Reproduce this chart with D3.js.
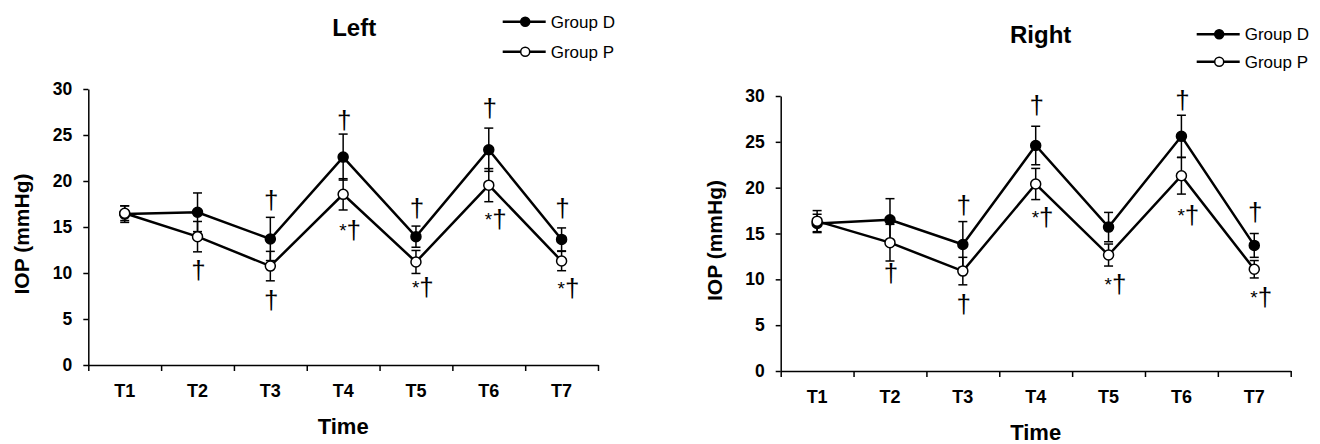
<!DOCTYPE html>
<html>
<meta charset="utf-8">
<style>
body { margin: 0; background: #fff; }
text { font-family: "Liberation Sans", Arial, sans-serif; fill: #000; }
.tick text { font-weight: bold; }
.axis path, .axis line { stroke: #000; stroke-width: 1.5px; }
.marks { opacity: 0.999; }
</style>
<head>
<script src="https://d3js.org/d3.v7.min.js"></script>
</head>
<body>
<script>
// categories and values
var categories = ["T1", "T2", "T3", "T4", "T5", "T6", "T7"];
var yTicks = [0, 5, 10, 15, 20, 25, 30];

var leftD    = [16.4, 16.6, 13.7, 22.6, 13.95, 23.4, 13.65];
var leftDErr = [0.9, 2.1, 2.35, 2.5, 1.15, 2.35, 1.25];
var leftP    = [16.5, 13.95, 10.75, 18.55, 11.2, 19.55, 11.3];
var leftPErr = [0.8, 1.65, 1.6, 1.7, 1.25, 1.8, 1.05];

var rightD    = [16.1, 16.5, 13.8, 24.6, 15.7, 25.6, 13.7];
var rightDErr = [1.0, 2.3, 2.5, 2.1, 1.6, 2.3, 1.3];
var rightP    = [16.35, 14.0, 10.9, 20.4, 12.65, 21.3, 11.1];
var rightPErr = [1.15, 2.0, 1.5, 1.7, 1.2, 2.0, 0.95];

// significance marks: [category, value at glyph centre, star?]
var leftMarks = [
  ["T2", 10.1, false],
  ["T3", 17.75, false], ["T3", 6.9, false],
  ["T4", 26.4, false], ["T4", 14.5, true],
  ["T5", 16.8, false], ["T5", 8.3, true],
  ["T6", 27.7, false], ["T6", 15.7, true],
  ["T7", 16.8, false], ["T7", 8.1, true]
];
var rightMarks = [
  ["T2", 10.5, false],
  ["T3", 17.9, false], ["T3", 7.1, false],
  ["T4", 28.8, false], ["T4", 16.6, true],
  ["T5", 9.3, true],
  ["T6", 29.4, false], ["T6", 16.8, true],
  ["T7", 17.1, false], ["T7", 7.85, true]
];

var groupNames = ["Group D", "Group P"];

var svg = d3.select("body").append("svg")
    .attr("width", 1320)
    .attr("height", 444);

var panels = [
  {title: "Left", x0: 88.3, x1: 598, top: 89, bottom: 365, titleDx: 11, titleY: 36,
   legX: 502.7, legY: 21.7, legGap: 30,
   d: leftD, dErr: leftDErr, p: leftP, pErr: leftPErr, marks: leftMarks},
  {title: "Right", x0: 780.7, x1: 1290.7, top: 96, bottom: 371, titleDx: 5, titleY: 43,
   legX: 1196.7, legY: 34.3, legGap: 27.4,
   d: rightD, dErr: rightDErr, p: rightP, pErr: rightPErr, marks: rightMarks}
];

panels.forEach(function(pn) {
  var g = svg.append("g");

  var x = d3.scaleBand()
      .domain(categories)
      .range([pn.x0, pn.x1])
      .padding(0);
  var xEdge = d3.scaleLinear()
      .domain([0, categories.length])
      .range([pn.x0, pn.x1]);
  var y = d3.scaleLinear()
      .domain([0, 30])
      .range([pn.bottom, pn.top]);
  var cx = function(c) { return x(c) + x.bandwidth() / 2; };

  // y axis
  g.append("g")
      .attr("class", "axis")
      .attr("transform", "translate(" + pn.x0 + ",0)")
      .call(d3.axisLeft(y).tickValues(yTicks).tickSize(5).tickSizeOuter(0).tickPadding(11))
      .selectAll("text").style("font-size", "17.5px");

  // x axis: ticks at category edges, labels centred
  g.append("g")
      .attr("class", "axis")
      .attr("transform", "translate(0," + pn.bottom + ")")
      .call(d3.axisBottom(xEdge).tickValues(d3.range(categories.length + 1))
            .tickFormat("").tickSize(6).tickSizeOuter(0));
  g.append("g")
      .attr("class", "axis")
      .attr("transform", "translate(0," + pn.bottom + ")")
      .call(d3.axisBottom(x).tickSize(0).tickSizeOuter(0).tickPadding(19))
      .call(function(s) { s.select(".domain").remove(); })
      .selectAll("text").style("font-size", "18px");

  // axis titles
  g.append("text")
      .attr("x", (pn.x0 + pn.x1) / 2)
      .attr("y", pn.bottom + 69)
      .attr("text-anchor", "middle")
      .style("font-size", "22px")
      .style("font-weight", "bold")
      .text("Time");
  g.append("text")
      .attr("transform", "translate(" + (pn.x0 - 59) + "," + ((pn.top + pn.bottom) / 2 + 7) + ") rotate(-90)")
      .attr("text-anchor", "middle")
      .style("font-size", "21px")
      .style("font-weight", "bold")
      .text("IOP (mmHg)");

  // panel title
  g.append("text")
      .attr("x", (pn.x0 + pn.x1) / 2 + pn.titleDx)
      .attr("y", pn.titleY)
      .attr("text-anchor", "middle")
      .style("font-size", "24px")
      .style("font-weight", "bold")
      .text(pn.title);

  var series = [
    {vals: pn.d, errs: pn.dErr, fill: "#000"},
    {vals: pn.p, errs: pn.pErr, fill: "#fff"}
  ];

  // error bars
  series.forEach(function(s) {
    var eb = g.append("g").selectAll("g")
        .data(categories.map(function(c, i) { return {c: c, v: s.vals[i], e: s.errs[i]}; }))
      .enter().append("g");
    eb.append("line")
        .attr("x1", function(d) { return cx(d.c); })
        .attr("x2", function(d) { return cx(d.c); })
        .attr("y1", function(d) { return y(d.v - d.e); })
        .attr("y2", function(d) { return y(d.v + d.e); })
        .attr("stroke", "#000").attr("stroke-width", 1.5);
    [-1, 1].forEach(function(sg) {
      eb.append("line")
          .attr("x1", function(d) { return cx(d.c) - 4.5; })
          .attr("x2", function(d) { return cx(d.c) + 4.5; })
          .attr("y1", function(d) { return y(d.v + sg * d.e); })
          .attr("y2", function(d) { return y(d.v + sg * d.e); })
          .attr("stroke", "#000").attr("stroke-width", 1.5);
    });
  });

  // lines and markers
  var line = d3.line()
      .x(function(d, i) { return cx(categories[i]); })
      .y(function(d) { return y(d); });

  series.slice().reverse().forEach(function(s) {
    g.append("path")
        .datum(s.vals)
        .attr("d", line)
        .attr("fill", "none")
        .attr("stroke", "#000")
        .attr("stroke-width", 2.5);
  });
  series.forEach(function(s) {
    g.append("g").selectAll("circle")
        .data(s.vals)
      .enter().append("circle")
        .attr("cx", function(d, i) { return cx(categories[i]); })
        .attr("cy", function(d) { return y(d); })
        .attr("r", 5)
        .attr("fill", s.fill)
        .attr("stroke", "#000")
        .attr("stroke-width", 1.5);
  });

  // significance marks (* and dagger)
  var mk = g.append("g").attr("class", "marks").selectAll("text")
      .data(pn.marks)
    .enter().append("text")
      .attr("x", function(d) { return d[2] ? cx(d[0]) - 4 : cx(d[0]) + 1; })
      .attr("y", function(d) { return y(d[1]) + 7; })
      .attr("text-anchor", function(d) { return d[2] ? "start" : "middle"; });
  mk.filter(function(d) { return d[2]; })
    .append("tspan")
      .style("font-size", "19px")
      .attr("dy", -2)
      .text("*");
  mk.append("tspan")
      .style("font-size", "26px")
      .attr("dy", function(d) { return d[2] ? 2 : 0; })
      .text("†");

  // legend
  var leg = g.append("g").selectAll("g")
      .data(groupNames)
    .enter().append("g")
      .attr("transform", function(d, i) { return "translate(" + pn.legX + "," + (pn.legY + i * pn.legGap) + ")"; });
  leg.append("line")
      .attr("x1", 0).attr("x2", 43)
      .attr("stroke", "#000").attr("stroke-width", 2.5);
  leg.append("circle")
      .attr("cx", 22.5).attr("r", 4.5)
      .attr("fill", function(d, i) { return series[i].fill; })
      .attr("stroke", "#000").attr("stroke-width", 1.5);
  leg.append("text")
      .attr("x", 48)
      .attr("y", 6)
      .style("font-size", "17px")
      .text(function(d) { return d; });
});
</script>
</body>
</html>
